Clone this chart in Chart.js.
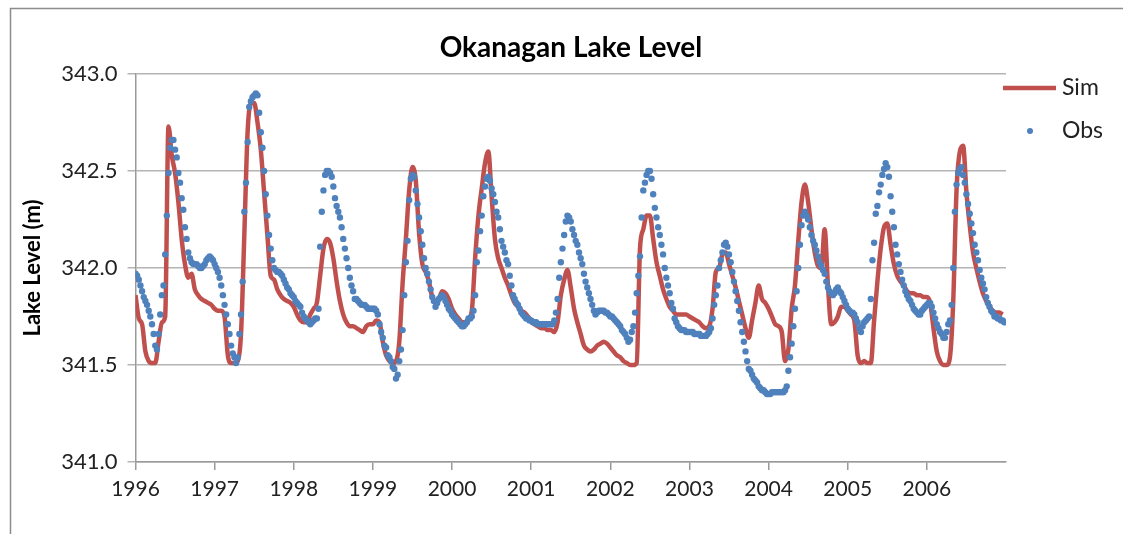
<!DOCTYPE html>
<html>
<head>
<meta charset="utf-8">
<script src="https://cdn.jsdelivr.net/npm/chart.js@4.4.1/dist/chart.umd.min.js"></script>
<style>
  html, body { margin: 0; padding: 0; background: #fff; }
</style>
</head>
<body>
<canvas id="chart" width="1123" height="534"></canvas>
<script>
// x axis in decimal years; Sim is read every half month, Obs every quarter month
const startYear = 1996;
const endYear = 2007;
const simPerYear = 24;
const obsPerYear = 48;
const yearLabels = ["1996", "1997", "1998", "1999", "2000", "2001", "2002", "2003", "2004", "2005", "2006"];
const levelTicks = [341.0, 341.5, 342.0, 342.5, 343.0];

// simulated lake level (m), one row per year
const simLevels = [
  341.86, 341.74, 341.71, 341.57, 341.52, 341.51, 341.51, 341.62, 341.72, 341.75, 342.73, 342.58, 342.49, 342.34, 342.15, 342.02, 341.95, 341.97, 341.89, 341.86, 341.84, 341.83, 341.82, 341.81,
  341.79, 341.78, 341.78, 341.75, 341.55, 341.51, 341.51, 341.52, 341.66, 342.17, 342.70, 342.85, 342.85, 342.75, 342.61, 342.39, 342.17, 341.96, 341.94, 341.89, 341.86, 341.84, 341.83, 341.82,
  341.80, 341.76, 341.73, 341.72, 341.72, 341.76, 341.79, 341.82, 341.96, 342.10, 342.15, 342.13, 342.05, 341.93, 341.83, 341.76, 341.72, 341.70, 341.70, 341.69, 341.68, 341.67, 341.70, 341.71,
  341.71, 341.73, 341.72, 341.62, 341.55, 341.52, 341.51, 341.52, 341.62, 341.92, 342.15, 342.40, 342.52, 342.45, 342.18, 342.02, 341.98, 341.93, 341.85, 341.83, 341.84, 341.88, 341.87, 341.84,
  341.79, 341.76, 341.74, 341.72, 341.72, 341.74, 341.78, 342.05, 342.27, 342.41, 342.54, 342.60, 342.37, 342.15, 342.05, 342.00, 341.95, 341.91, 341.86, 341.82, 341.80, 341.78, 341.77, 341.75,
  341.73, 341.71, 341.70, 341.69, 341.69, 341.68, 341.68, 341.67, 341.72, 341.86, 341.94, 341.99, 341.90, 341.79, 341.72, 341.66, 341.60, 341.58, 341.57, 341.58, 341.60, 341.61, 341.62, 341.61,
  341.59, 341.57, 341.55, 341.54, 341.52, 341.51, 341.50, 341.50, 341.51, 342.10, 342.20, 342.27, 342.27, 342.15, 342.03, 341.96, 341.89, 341.84, 341.80, 341.78, 341.76, 341.76, 341.76, 341.76,
  341.75, 341.74, 341.73, 341.72, 341.70, 341.69, 341.70, 341.79, 341.98, 342.00, 342.07, 342.08, 342.02, 341.96, 341.90, 341.83, 341.76, 341.69, 341.64, 341.73, 341.82, 341.91, 341.84, 341.82,
  341.79, 341.75, 341.71, 341.70, 341.67, 341.52, 341.58, 341.79, 341.91, 342.14, 342.34, 342.43, 342.34, 342.20, 342.08, 342.01, 342.00, 342.20, 341.91, 341.71, 341.72, 341.75, 341.80, 341.80,
  341.78, 341.76, 341.73, 341.55, 341.51, 341.52, 341.51, 341.51, 341.73, 341.93, 342.10, 342.21, 342.23, 342.12, 342.02, 341.96, 341.93, 341.91, 341.88, 341.87, 341.87, 341.86, 341.86, 341.85,
  341.85, 341.82, 341.69, 341.57, 341.52, 341.50, 341.50, 341.54, 341.83, 342.40, 342.60, 342.63, 342.39, 342.22, 342.08, 342.00, 341.93, 341.87, 341.83, 341.80, 341.78, 341.77, 341.77, 341.76
];

// observed lake level (m), one row per year
const obsLevels = [
  341.97, 341.96, 341.94, 341.91, 341.88, 341.85, 341.83, 341.81, 341.78, 341.75, 341.71, 341.66, 341.60, 341.58, 341.66, 341.76, 341.86, 341.91, 342.07, 342.27, 342.49, 342.62, 342.66, 342.66, 342.61, 342.57, 342.49, 342.44, 342.36, 342.30, 342.21, 342.15, 342.08, 342.05, 342.03, 342.02, 342.02, 342.02, 342.01, 342.00, 342.00, 342.01, 342.02, 342.04, 342.05, 342.06, 342.05, 342.04,
  342.02, 342.00, 341.98, 341.95, 341.91, 341.86, 341.81, 341.76, 341.71, 341.66, 341.60, 341.56, 341.54, 341.51, 341.54, 341.66, 341.76, 341.93, 342.29, 342.44, 342.65, 342.83, 342.86, 342.88, 342.89, 342.90, 342.89, 342.80, 342.70, 342.62, 342.50, 342.38, 342.27, 342.17, 342.10, 342.04, 342.00, 341.99, 341.98, 341.98, 341.97, 341.96, 341.94, 341.92, 341.90, 341.89, 341.87, 341.86,
  341.85, 341.83, 341.82, 341.81, 341.80, 341.77, 341.75, 341.74, 341.73, 341.72, 341.71, 341.72, 341.73, 341.74, 341.74, 341.79, 342.11, 342.29, 342.40, 342.48, 342.50, 342.50, 342.49, 342.47, 342.42, 342.36, 342.32, 342.29, 342.26, 342.21, 342.15, 342.10, 342.05, 342.00, 341.95, 341.91, 341.88, 341.84, 341.84, 341.83, 341.82, 341.81, 341.81, 341.81, 341.80, 341.79, 341.79, 341.79,
  341.79, 341.79, 341.78, 341.76, 341.71, 341.67, 341.64, 341.60, 341.59, 341.55, 341.54, 341.52, 341.49, 341.48, 341.43, 341.45, 341.52, 341.58, 341.68, 341.86, 342.03, 342.14, 342.35, 342.46, 342.48, 342.47, 342.40, 342.33, 342.26, 342.19, 342.12, 342.05, 342.00, 341.97, 341.93, 341.89, 341.85, 341.83, 341.80, 341.82, 341.84, 341.85, 341.86, 341.85, 341.83, 341.81, 341.79, 341.78,
  341.76, 341.75, 341.74, 341.73, 341.72, 341.71, 341.70, 341.70, 341.71, 341.72, 341.74, 341.74, 341.75, 341.78, 341.86, 342.03, 342.09, 342.19, 342.27, 342.37, 342.42, 342.46, 342.47, 342.45, 342.41, 342.38, 342.34, 342.29, 342.26, 342.20, 342.14, 342.11, 342.08, 342.04, 342.02, 341.96, 341.91, 341.86, 341.84, 341.82, 341.81, 341.79, 341.77, 341.76, 341.75, 341.74, 341.74, 341.73,
  341.73, 341.72, 341.72, 341.72, 341.71, 341.71, 341.71, 341.71, 341.71, 341.71, 341.71, 341.71, 341.71, 341.71, 341.73, 341.77, 341.84, 341.95, 342.03, 342.10, 342.17, 342.24, 342.27, 342.26, 342.24, 342.20, 342.17, 342.14, 342.12, 342.08, 342.05, 342.02, 341.97, 341.93, 341.90, 341.87, 341.84, 341.81, 341.78, 341.76, 341.77, 341.78, 341.78, 341.78, 341.78, 341.77, 341.77, 341.76,
  341.75, 341.75, 341.74, 341.73, 341.72, 341.71, 341.70, 341.68, 341.67, 341.66, 341.64, 341.62, 341.63, 341.67, 341.70, 341.77, 341.87, 341.96, 342.06, 342.26, 342.40, 342.44, 342.48, 342.50, 342.50, 342.46, 342.38, 342.31, 342.26, 342.21, 342.17, 342.12, 342.07, 342.00, 341.95, 341.91, 341.87, 341.82, 341.79, 341.74, 341.72, 341.70, 341.69, 341.68, 341.68, 341.68, 341.67, 341.67,
  341.67, 341.67, 341.67, 341.66, 341.66, 341.66, 341.66, 341.65, 341.65, 341.65, 341.65, 341.66, 341.67, 341.69, 341.74, 341.81, 341.86, 341.91, 342.00, 342.04, 342.08, 342.12, 342.13, 342.11, 342.07, 342.03, 341.98, 341.93, 341.88, 341.83, 341.78, 341.72, 341.67, 341.62, 341.57, 341.52, 341.48, 341.47, 341.45, 341.43, 341.42, 341.41, 341.39, 341.38, 341.37, 341.37, 341.36, 341.35,
  341.35, 341.35, 341.36, 341.36, 341.36, 341.36, 341.36, 341.36, 341.36, 341.36, 341.37, 341.39, 341.47, 341.54, 341.61, 341.70, 341.79, 341.88, 342.00, 342.12, 342.22, 342.27, 342.29, 342.27, 342.25, 342.21, 342.17, 342.14, 342.12, 342.09, 342.06, 342.03, 342.01, 341.99, 341.97, 341.93, 341.90, 341.88, 341.87, 341.86, 341.87, 341.89, 341.90, 341.88, 341.87, 341.85, 341.83, 341.81,
  341.79, 341.78, 341.77, 341.77, 341.76, 341.74, 341.72, 341.69, 341.67, 341.70, 341.72, 341.73, 341.74, 341.75, 341.84, 342.04, 342.13, 342.28, 342.32, 342.39, 342.43, 342.48, 342.51, 342.54, 342.52, 342.47, 342.37, 342.29, 342.21, 342.12, 342.07, 342.02, 341.98, 341.94, 341.91, 341.88, 341.86, 341.84, 341.83, 341.81, 341.79, 341.78, 341.77, 341.76, 341.76, 341.78, 341.79, 341.80,
  341.81, 341.82, 341.82, 341.80, 341.77, 341.74, 341.71, 341.69, 341.67, 341.66, 341.64, 341.64, 341.67, 341.71, 341.73, 341.81, 342.00, 342.29, 342.43, 342.49, 342.51, 342.52, 342.48, 342.44, 342.38, 342.33, 342.28, 342.23, 342.18, 342.12, 342.08, 342.04, 341.99, 341.95, 341.92, 341.89, 341.85, 341.82, 341.80, 341.78, 341.77, 341.75, 341.75, 341.74, 341.74, 341.73, 341.73, 341.72
];

const simColor = "#C0504D";
const obsColor = "#4F81BD";
const gridColor = "#b4b4b4";
const axisColor = "#9a9a9a";
const fontFamily = "Lato, 'Open Sans', sans-serif";

const toPoints = (values, perYear) =>
  values.map((v, i) => ({ x: startYear + i / perYear, y: v }));

// title, legend and the outer frame, drawn straight on the canvas
const decorations = {
  id: "decorations",
  afterDraw(chart) {
    const c = chart.ctx;
    c.save();
    c.strokeStyle = "#8c8c8c";
    c.lineWidth = 1.5;
    c.beginPath();
    c.moveTo(10.5, 534);
    c.lineTo(10.5, 8.5);
    c.lineTo(1123, 8.5);
    c.stroke();

    c.fillStyle = "#000";
    c.font = "bold 28px " + fontFamily;
    c.textAlign = "center";
    c.textBaseline = "middle";
    c.fillText("Okanagan Lake Level", 571, 48);

    c.strokeStyle = simColor;
    c.lineWidth = 4.5;
    c.beginPath();
    c.moveTo(1003, 88);
    c.lineTo(1056, 88);
    c.stroke();
    c.fillStyle = obsColor;
    c.beginPath();
    c.arc(1030, 131, 3, 0, Math.PI * 2);
    c.fill();

    c.fillStyle = "#222";
    c.font = "23px " + fontFamily;
    c.textAlign = "left";
    c.fillText("Sim", 1062, 88);
    c.fillText("Obs", 1062, 131);
    c.restore();
  },
};

new Chart(document.getElementById("chart"), {
  type: "scatter",
  data: {
    datasets: [
      {
        label: "Obs",
        data: toPoints(obsLevels, obsPerYear),
        showLine: false,
        pointRadius: 3.2,
        pointBackgroundColor: obsColor,
        pointBorderWidth: 0,
        order: 0,
      },
      {
        label: "Sim",
        data: toPoints(simLevels, simPerYear),
        showLine: true,
        borderColor: simColor,
        borderWidth: 4.5,
        pointRadius: 0,
        cubicInterpolationMode: "monotone",
        order: 1,
      },
    ],
  },
  options: {
    responsive: false,
    animation: false,
    layout: { padding: { left: 10, right: 117, top: 74, bottom: 0 } },
    plugins: {
      legend: { display: false },
      tooltip: { enabled: false },
    },
    scales: {
      x: {
        type: "linear",
        min: startYear,
        max: endYear,
        afterBuildTicks(scale) {
          scale.ticks = yearLabels.map((y) => ({ value: Number(y) }));
        },
        afterFit(scale) {
          scale.height = 72;
        },
        ticks: {
          callback: (v) => String(v),
          color: "#222",
          font: { family: fontFamily, size: 21 },
          padding: 7,
          maxRotation: 0,
          autoSkip: false,
        },
        grid: {
          drawOnChartArea: false,
          drawTicks: true,
          tickLength: 8,
          color: axisColor,
          lineWidth: 1.5,
        },
        border: { color: axisColor, width: 1.5 },
      },
      y: {
        min: 341,
        max: 343,
        afterBuildTicks(scale) {
          scale.ticks = levelTicks.map((v) => ({ value: v }));
        },
        afterFit(scale) {
          scale.width = 125.5;
        },
        ticks: {
          callback: (v) => v.toFixed(1),
          color: "#222",
          font: { family: fontFamily, size: 22 },
          padding: 10,
        },
        grid: {
          color: gridColor,
          lineWidth: 1.5,
          tickLength: 8,
        },
        border: { color: axisColor, width: 1.5 },
        title: {
          display: true,
          text: "Lake Level (m)",
          color: "#000",
          font: { family: fontFamily, size: 22, weight: "bold" },
          padding: { top: 10, bottom: 0 },
        },
      },
    },
  },
  plugins: [decorations],
});
</script>
</body>
</html>
